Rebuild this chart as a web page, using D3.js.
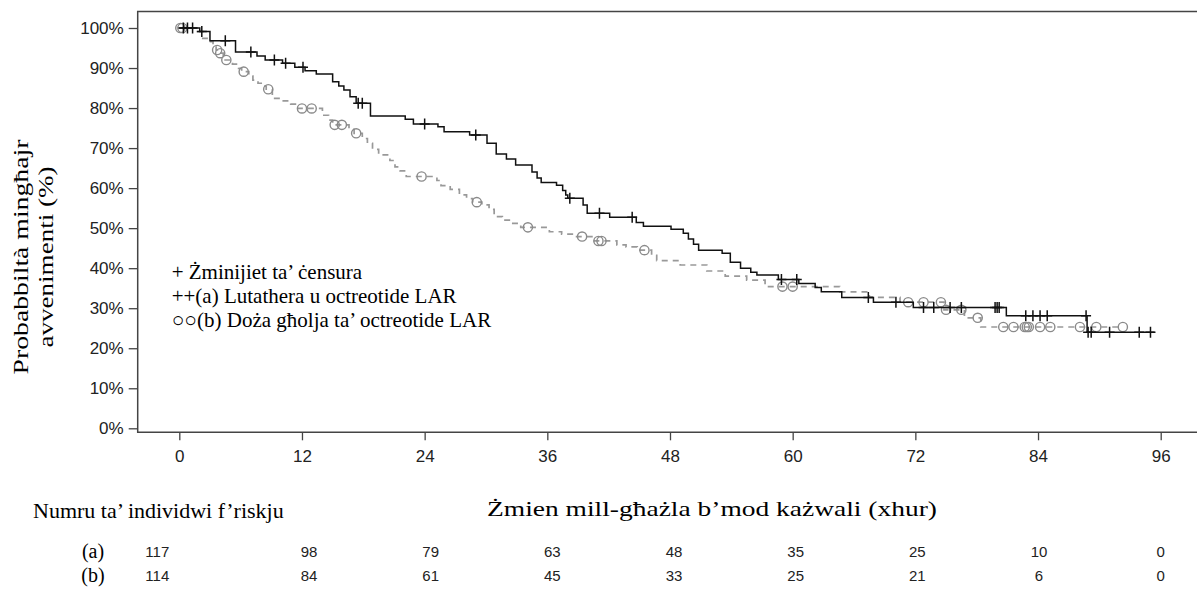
<!DOCTYPE html>
<html><head><meta charset="utf-8">
<script src="https://cdn.jsdelivr.net/npm/d3@7"></script>
<style>body{margin:0;background:#fff}</style></head>
<body>
<svg id="chart" width="1197" height="597"></svg>
<script>
// ---- data ----
const timeTicks = [0, 12, 24, 36, 48, 60, 72, 84, 96];
const yTicks = [0, 10, 20, 30, 40, 50, 60, 70, 80, 90, 100];

// (a) Lutathera u octreotide LAR : event times and survival (%) after each step
const stepTimesA = [2.0,3.0,5.5,7.6,8.4,10.1,11.3,12.3,13.4,15.0,15.6,16.1,16.7,17.3,18.7,22.1,22.9,25.3,25.9,28.4,30.1,31.0,32.0,32.9,34.5,35.0,35.4,36.9,37.5,37.8,38.0,39.5,39.9,42.1,44.7,45.4,48.1,49.3,49.8,50.3,50.8,53.1,53.9,54.9,55.9,56.5,58.6,60.6,62.2,62.8,64.8,67.9,71.8,80.9,88.8];
const survA     = [99.1,96.8,94.0,93.0,92.0,91.2,90.2,89.3,88.5,86.6,85.5,84.5,82.8,81.2,78.0,77.2,76.0,75.3,74.1,73.3,71.2,68.5,67.3,65.8,64.0,62.5,61.4,60.7,59.4,58.3,57.5,55.8,53.7,52.7,51.4,50.5,49.7,48.7,47.3,46.0,44.5,43.7,41.5,40.0,39.0,38.3,37.2,36.2,35.2,34.1,32.7,31.5,30.2,28.1,24.0];
const endA = 95.4;
const censorA = [0.4,0.8,1.3,2.2,4.5,7.0,9.3,10.4,12.1,17.5,17.9,24.0,29.0,38.2,41.1,44.3,58.9,60.4,67.4,70.1,72.8,73.8,75.4,76.5,79.8,80.0,80.2,82.8,83.5,84.2,84.9,88.7,88.9,89.2,91.0,93.9,95.0];

// (b) Doża għolja ta' octreotide LAR
const stepTimesB = [1.8,2.3,2.8,3.3,3.6,3.9,4.3,5.2,5.8,6.1,6.8,7.2,7.7,8.2,8.5,9.1,10.0,10.9,11.6,14.0,14.6,15.0,16.6,17.1,17.9,18.4,18.9,19.5,20.6,21.1,21.6,22.2,25.2,25.6,26.5,27.4,28.1,28.7,29.6,30.3,30.8,31.6,32.4,33.4,36.2,37.4,38.6,40.6,42.8,43.7,44.8,46.2,46.7,49.0,51.6,53.4,55.5,57.3,64.6,67.5,70.5,74.8,76.8,78.4];
const survB     = [99.1,97.4,96.6,95.6,94.5,93.7,92.0,91.0,89.9,89.1,88.0,87.0,86.2,85.5,84.7,82.4,81.8,81.0,79.9,78.2,77.0,75.8,74.7,73.7,72.4,71.2,69.7,68.3,66.9,65.3,64.3,62.9,61.9,60.6,59.7,58.3,57.4,56.5,55.8,54.7,52.9,52.0,51.2,50.2,49.1,48.5,47.9,46.8,45.8,45.3,44.5,43.2,41.9,40.8,39.3,38.0,37.0,35.4,34.1,32.7,31.5,29.6,27.6,25.3];
const endB = 92.3;
const censorB = [0.1,0.3,3.7,4.0,4.6,6.3,8.7,12.0,12.95,15.2,15.9,17.3,23.7,29.1,34.1,39.4,41.0,41.3,45.5,59.0,60.0,71.3,72.8,74.5,75.0,76.5,78.1,80.6,81.6,82.7,82.9,83.1,84.2,85.2,88.1,89.7,92.3];

// number at risk
const riskTimes = [0, 12, 24, 36, 48, 60, 72, 84, 96];
const riskA = [117, 98, 79, 63, 48, 35, 25, 10, 0];
const riskB = [114, 84, 61, 45, 33, 25, 21, 6, 0];
const riskLabels = ["(a)", "(b)"];

const legendLines = ["+ Żminijiet ta’ ċensura", "++(a) Lutathera u octreotide LAR", "○○(b) Doża għolja ta’ octreotide LAR"];
const yTitle = ["Probabbiltà mingħajr", "avvenimenti (%)"];
const xTitle = "Żmien mill-għażla b’mod każwali (xhur)";
const riskTitle = "Numru ta’ individwi f’riskju";

// ---- drawing ----
const SERIF = "'Liberation Serif','Times New Roman',serif";
const SANS = "'Liberation Sans',Arial,sans-serif";
const svg = d3.select("#chart");
const frameL = 137.7, frameT = 11.5, frameB = 432.3, frameR = 1197;
const x = d3.scaleLinear().domain([0, 96]).range([179.3, 1160.7]);
const y = d3.scaleLinear().domain([0, 100]).range([428.3, 28]);

// frame
svg.append("path").attr("d", `M${frameR},${frameT}H${frameL}V${frameB}H${frameR}`)
  .attr("fill", "none").attr("stroke", "#444").attr("stroke-width", 1.5);

// y axis
const yAxis = svg.append("g").attr("transform", `translate(${frameL},0)`)
  .call(d3.axisLeft(y).tickValues(yTicks).tickSize(9).tickFormat(d => d + "%"));
yAxis.select(".domain").remove();
yAxis.selectAll("line").attr("stroke", "#444").attr("stroke-width", 1.3);
yAxis.selectAll("text").attr("font-family", SANS).attr("font-size", 17).attr("fill", "#222").attr("dx", -2);

// x axis
const xAxis = svg.append("g").attr("transform", `translate(0,${frameB})`)
  .call(d3.axisBottom(x).tickValues(timeTicks).tickSize(8).tickFormat(d3.format("d")));
xAxis.select(".domain").remove();
xAxis.selectAll("line").attr("stroke", "#444").attr("stroke-width", 1.3);
xAxis.selectAll("text").attr("font-family", SANS).attr("font-size", 17).attr("fill", "#222").attr("dy", "1.1em");

function survAt(times, surv, t) {
  let s = 100;
  for (let i = 0; i < times.length; i++) { if (times[i] <= t) s = surv[i]; else break; }
  return s;
}
function stepPoints(times, surv, end) {
  const pts = [[0, 100]];
  times.forEach((t, i) => pts.push([t, surv[i]]));
  pts.push([end, surv[surv.length - 1]]);
  return pts;
}
const line = d3.line().x(d => x(d[0])).y(d => y(d[1])).curve(d3.curveStepAfter);

// (b) grey dashed
svg.append("path").datum(stepPoints(stepTimesB, survB, endB)).attr("d", line)
  .attr("fill", "none").attr("stroke", "#999").attr("stroke-width", 1.7).attr("stroke-dasharray", "6,5");
svg.append("g").selectAll("circle").data(censorB).join("circle")
  .attr("cx", d => x(d)).attr("cy", d => y(survAt(stepTimesB, survB, d))).attr("r", 4.6)
  .attr("fill", "none").attr("stroke", "#8a8a8a").attr("stroke-width", 1.4);

// (a) black solid
svg.append("path").datum(stepPoints(stepTimesA, survA, endA)).attr("d", line)
  .attr("fill", "none").attr("stroke", "#111").attr("stroke-width", 1.5);
svg.append("g").selectAll("path").data(censorA).join("path")
  .attr("d", d => { const cx = x(d), cy = y(survAt(stepTimesA, survA, d)); return `M${cx-5},${cy}H${cx+5}M${cx},${cy-5.5}V${cy+5.5}`; })
  .attr("stroke", "#111").attr("stroke-width", 1.5);

// legend
svg.append("g").selectAll("text").data(legendLines).join("text")
  .attr("x", 171.7).attr("y", (d, i) => 279 + i * 24)
  .attr("font-family", SERIF).attr("font-size", 21).attr("fill", "#000").text(d => d);

// y title (slightly stretched, as in the source)
const yTitleLen = [235, 181];
svg.append("g").selectAll("text").data(yTitle).join("text")
  .attr("transform", (d, i) => `translate(${28 + i * 25},257) rotate(-90)`)
  .attr("text-anchor", "middle").attr("font-family", SERIF).attr("font-size", 22)
  .attr("textLength", (d, i) => yTitleLen[i]).attr("lengthAdjust", "spacingAndGlyphs")
  .attr("fill", "#000").text(d => d);

// x title
svg.append("text").attr("x", 712).attr("y", 516).attr("text-anchor", "middle")
  .attr("font-family", SERIF).attr("font-size", 22)
  .attr("textLength", 450).attr("lengthAdjust", "spacingAndGlyphs")
  .attr("fill", "#000").text(xTitle);
svg.append("text").attr("x", 33).attr("y", 518)
  .attr("font-family", SERIF).attr("font-size", 22).attr("fill", "#000").text(riskTitle);

// risk table
const riskRows = [riskA, riskB];
riskRows.forEach((row, r) => {
  const yy = 557 + r * 24;
  svg.append("text").attr("x", 93).attr("y", yy + 1).attr("text-anchor", "middle")
    .attr("font-family", SERIF).attr("font-size", 20).attr("fill", "#000").text(riskLabels[r]);
  svg.append("g").selectAll("text").data(row).join("text")
    .attr("x", (d, i) => i === 0 ? x(riskTimes[i]) - 22 : x(riskTimes[i]) + Math.max(0, 8 - i) )
    .attr("y", yy).attr("text-anchor", "middle")
    .attr("font-family", SANS).attr("font-size", 15).attr("fill", "#222").text(d => d);
});
</script>
</body></html>
